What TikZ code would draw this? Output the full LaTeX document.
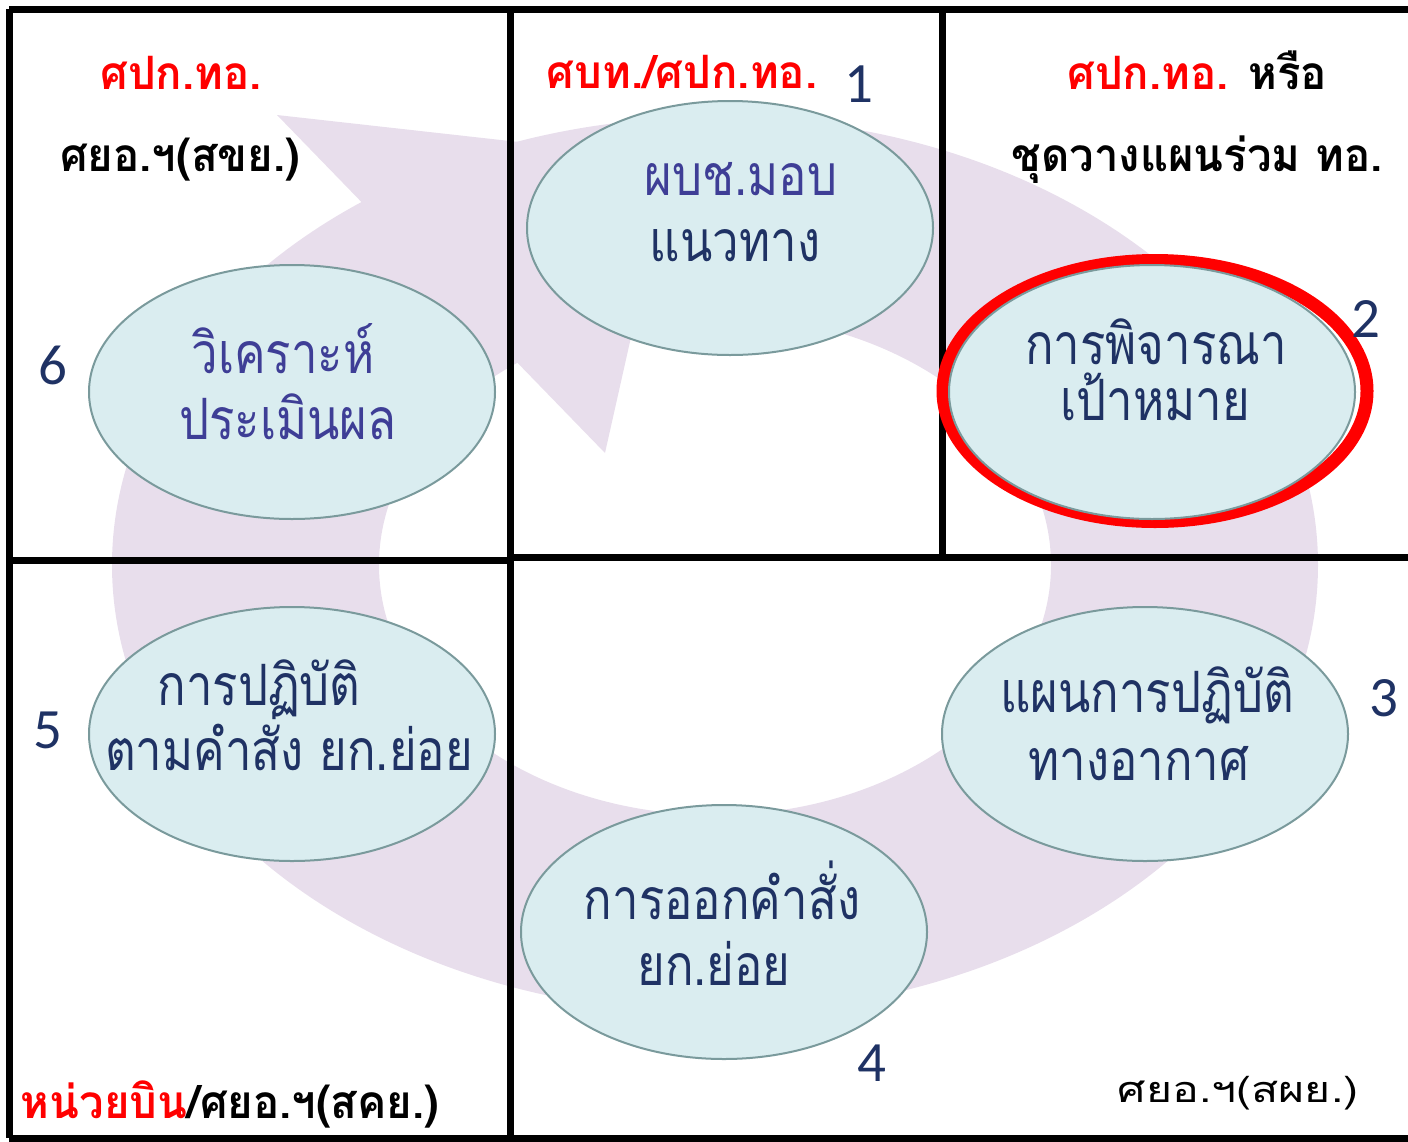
\documentclass[tikz,border=0pt]{standalone}
\usepackage{fontspec}
\usetikzlibrary{shapes.geometric}
\newfontfamily\thaifont[Script=Thai,FakeStretch=0.83]{Loma}
\newfontfamily\thaihead[Script=Thai,FakeStretch=0.95]{Loma}
\newfontfamily\thaiwide[Script=Thai,FakeStretch=1.24]{Loma}
\newfontfamily\numfont{Carlito}
\definecolor{ringpurple}{RGB}{232,222,236}
\definecolor{cellfill}{RGB}{218,237,240}
\definecolor{celledge}{RGB}{122,154,156}
\definecolor{labnavy}{RGB}{31,50,100}
\definecolor{labviolet}{RGB}{62,62,150}
\tikzset{
  rule/.style={line width=7pt},
  cell/.style={ellipse,fill=cellfill,draw=celledge,line width=2pt,
    minimum width=406pt,minimum height=254pt,inner sep=0pt},
  head/.style={font=\thaihead\bfseries\fontsize{46}{50}\selectfont,anchor=base,inner sep=0pt},
  lab/.style={font=\thaifont\fontsize{57}{64}\selectfont,text=labnavy,anchor=base,inner sep=0pt},
  num/.style={font=\numfont\fontsize{57}{60}\selectfont,text=labnavy,anchor=base,inner sep=0pt}
}
\begin{document}
\begin{tikzpicture}[x=1pt,y=-1pt]
  \useasboundingbox (0,0) rectangle (1408,1141);
  % cycle arrow in the background
  \fill[ringpurple,even odd rule] (715,565) ellipse [x radius=603,y radius=448]
    (715,565) ellipse [x radius=336,y radius=250];
  \fill[ringpurple] (277,115) -- (605,453) -- (671,159) -- cycle;
  % frame and cells
  \draw[rule] (9,9) -- (1408,9);
  \draw[rule] (9,9) -- (9,1138);
  \draw[rule] (9,1138) -- (1408,1138);
  \draw[rule] (510,9) -- (510,1138);
  \draw[rule] (942,12) -- (942,556);
  \draw[rule] (9,560) -- (510,560);
  \draw[rule] (510,557) -- (1408,557);
  % steps
  \node[ellipse,draw=red,line width=13pt,minimum width=424pt,minimum height=261pt,inner sep=0pt]
    (mark) at (1155,391) {};
  \node[cell] (e1) at (730,228) {};
  \node[cell] (e2) at (1152,392) {};
  \node[cell] (e3) at (1145,734) {};
  \node[cell] (e4) at (724,932) {};
  \node[cell] (e5) at (292,734) {};
  \node[cell] (e6) at (292,392) {};
  \node[lab,text=labviolet] (l1a) at (741,195) {ผบช.มอบ};
  \node[lab] (l1b) at (735,261) {แนวทาง};
  \node[lab] (l2a) at (1156,364) {การพิจารณา};
  \node[lab] (l2b) at (1155,420) {เป้าหมาย};
  \node[lab] (l3a) at (1147,712) {แผนการปฏิบัติ};
  \node[lab] (l3b) at (1139,780) {ทางอากาศ};
  \node[lab] (l4a) at (722,919) {การออกคำสั่ง};
  \node[lab] (l4b) at (714,985) {ยก.ย่อย};
  \node[lab] (l5a) at (259,705) {การปฏิบัติ};
  \node[lab] (l5b) at (289,770) {ตามคำสั่ง ยก.ย่อย};
  \node[lab,text=labviolet] (l6a) at (283,373) {วิเคราะห์};
  \node[lab,text=labviolet] (l6b) at (288,439) {ประเมินผล};
  % numbers
  \node[num] (n1) at (859,102) {1};
  \node[num] (n2) at (1366,337) {2};
  \node[num] (n3) at (1384,716) {3};
  \node[num] (n4) at (872,1081) {4};
  \node[num] (n5) at (48,748) {5};
  \node[num] (n6) at (53,384) {6};
  % responsible units
  \node[head,text=red] (h1) at (181,89) {ศปก.ทอ.};
  \node[head] (h2) at (180,171) {ศยอ.ฯ(สขย.)};
  \node[head,text=red] (h3) at (682,88) {ศบท./ศปก.ทอ.};
  \node[head] (h4) at (1197,89) {\textcolor{red}{ศปก.ทอ.} หรือ};
  \node[head] (h5) at (1197,171) {ชุดวางแผนร่วม ทอ.};
  \node[head] (h6) at (230,1118) {\textcolor{red}{หน่วยบิน}/ศยอ.ฯ(สคย.)};
  \node[head,font=\thaiwide\fontsize{36}{40}\selectfont] (h7) at (1238,1102) {ศยอ.ฯ(สผย.)};
\end{tikzpicture}
\end{document}
